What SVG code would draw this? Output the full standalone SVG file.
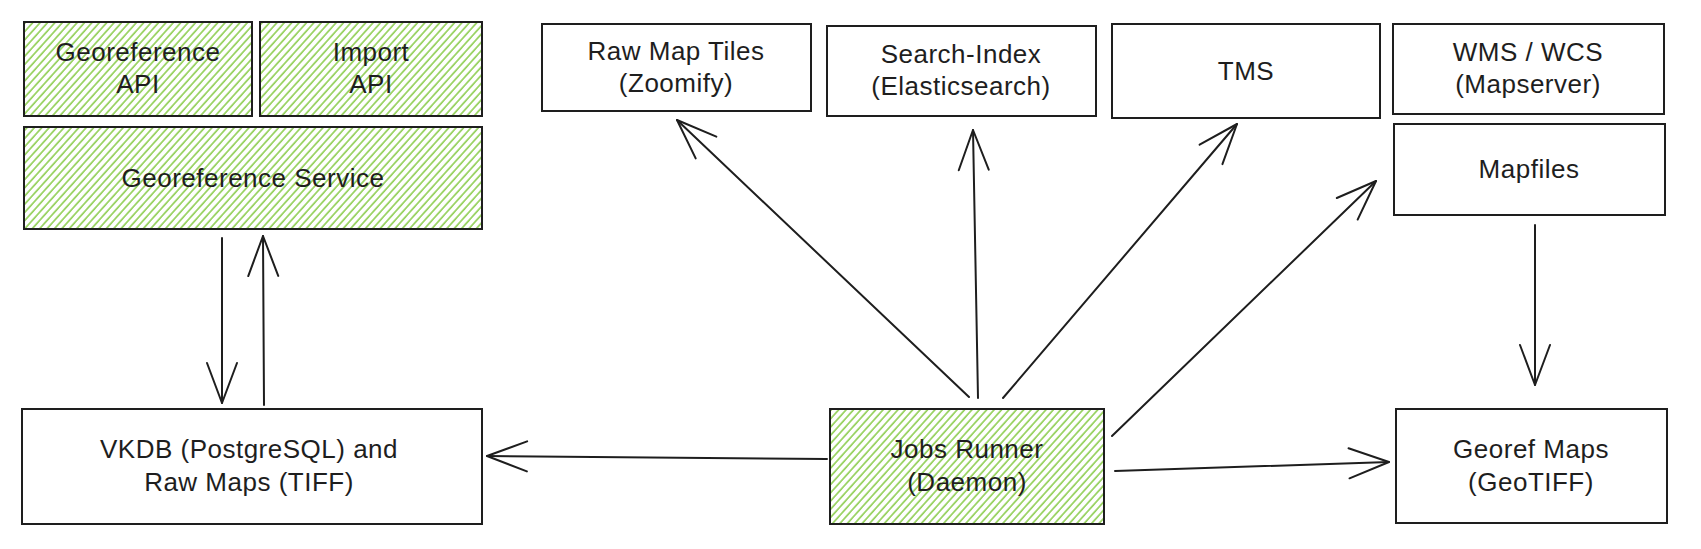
<svg xmlns="http://www.w3.org/2000/svg" width="1701" height="549" viewBox="0 0 1701 549">
  <defs>
    <pattern id="hatch" patternUnits="userSpaceOnUse" width="5.5" height="10" patternTransform="rotate(42)">
      <line x1="1" y1="0" x2="1" y2="10" stroke="#8fce52" stroke-width="1.6"/>
    </pattern>
    <marker id="arrow" markerUnits="userSpaceOnUse" viewBox="-45 -20 50 40" refX="0" refY="0" markerWidth="50" markerHeight="40" orient="auto" overflow="visible">
      <path d="M-40,-15 L0,0 L-40,15" fill="none" stroke="#1e1e1e" stroke-width="2" stroke-linecap="round" stroke-linejoin="round"/>
    </marker>
  </defs>
  <style>
    .box { fill: #ffffff; stroke: #1e1e1e; stroke-width: 2; }
    .green { fill: url(#hatch); stroke: #1e1e1e; stroke-width: 2; }
    .lbl { font-family: "Liberation Sans", Arial, sans-serif; font-size: 26px; fill: #1e1e1e; text-anchor: middle; letter-spacing: 0.5px; }
    .conn { fill: none; stroke: #1e1e1e; stroke-width: 2; stroke-linecap: round; marker-end: url(#arrow); }
  </style>
  <rect width="1701" height="549" fill="#ffffff"/>

  <g id="georeference-api">
    <rect class="green" x="24" y="22" width="228" height="94"/>
    <text class="lbl" x="138" y="61">Georeference</text>
    <text class="lbl" x="138" y="93">API</text>
  </g>
  <g id="import-api">
    <rect class="green" x="260" y="22" width="222" height="94"/>
    <text class="lbl" x="371" y="61">Import</text>
    <text class="lbl" x="371" y="93">API</text>
  </g>
  <g id="georeference-service">
    <rect class="green" x="24" y="127" width="458" height="102"/>
    <text class="lbl" x="253" y="187">Georeference Service</text>
  </g>
  <g id="raw-map-tiles">
    <rect class="box" x="542" y="24" width="269" height="87"/>
    <text class="lbl" x="676" y="60">Raw Map Tiles</text>
    <text class="lbl" x="676" y="92">(Zoomify)</text>
  </g>
  <g id="search-index">
    <rect class="box" x="827" y="26" width="269" height="90"/>
    <text class="lbl" x="961" y="63">Search-Index</text>
    <text class="lbl" x="961" y="95">(Elasticsearch)</text>
  </g>
  <g id="tms">
    <rect class="box" x="1112" y="24" width="268" height="94"/>
    <text class="lbl" x="1246" y="80">TMS</text>
  </g>
  <g id="wms-wcs">
    <rect class="box" x="1393" y="24" width="271" height="90"/>
    <text class="lbl" x="1528" y="61">WMS / WCS</text>
    <text class="lbl" x="1528" y="93">(Mapserver)</text>
  </g>
  <g id="mapfiles">
    <rect class="box" x="1394" y="124" width="271" height="91"/>
    <text class="lbl" x="1529" y="178">Mapfiles</text>
  </g>
  <g id="vkdb">
    <rect class="box" x="22" y="409" width="460" height="115"/>
    <text class="lbl" x="249" y="458">VKDB (PostgreSQL) and</text>
    <text class="lbl" x="249" y="491">Raw Maps (TIFF)</text>
  </g>
  <g id="jobs-runner">
    <rect class="green" x="830" y="409" width="274" height="115"/>
    <text class="lbl" x="967" y="458">Jobs Runner</text>
    <text class="lbl" x="967" y="491">(Daemon)</text>
  </g>
  <g id="georef-maps">
    <rect class="box" x="1396" y="409" width="271" height="114"/>
    <text class="lbl" x="1531" y="458">Georef Maps</text>
    <text class="lbl" x="1531" y="491">(GeoTIFF)</text>
  </g>

  <g id="connectors">
    <path class="conn" d="M222,238 L222,403"/>
    <path class="conn" d="M264,405 L263,236"/>
    <path class="conn" d="M827,459 L487,456"/>
    <path class="conn" d="M969,397 L677,120"/>
    <path class="conn" d="M978,398 L973,130"/>
    <path class="conn" d="M1003,398 L1237,124"/>
    <path class="conn" d="M1112,436 L1376,181"/>
    <path class="conn" d="M1115,471 L1389,462"/>
    <path class="conn" d="M1535,225 L1535,385"/>
  </g>
</svg>
